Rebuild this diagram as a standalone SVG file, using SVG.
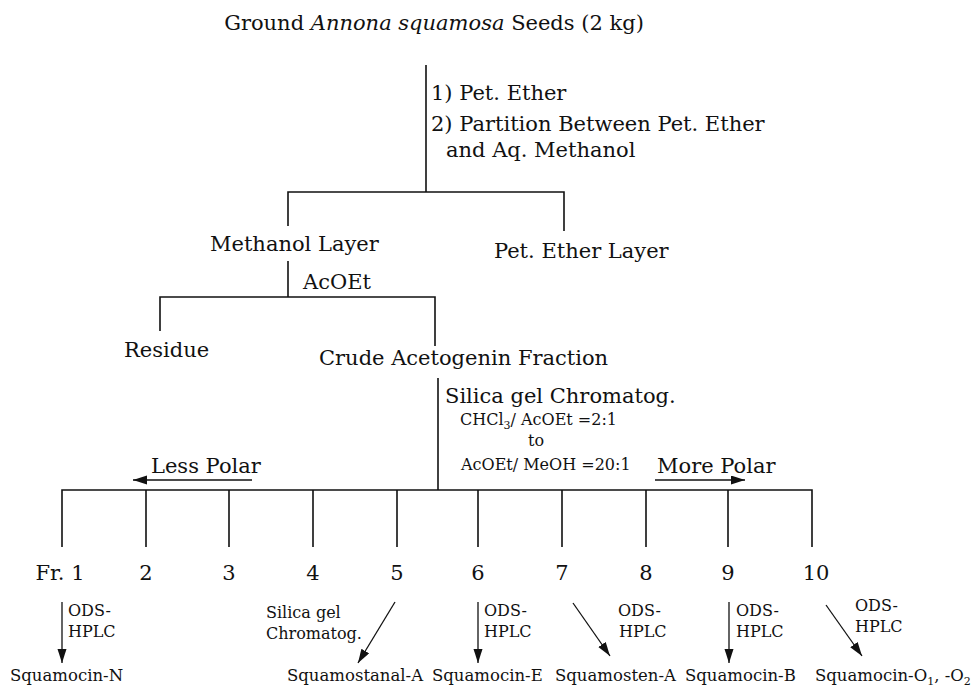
<svg xmlns="http://www.w3.org/2000/svg" width="980" height="689" viewBox="0 0 980 689">
<style>
text{font-family:"DejaVu Serif","Liberation Serif",serif;fill:#111}
.m{font-size:21px}
.s{font-size:16px}
.b{font-size:16.5px}
.c{text-anchor:middle}
.ln{stroke:#111;stroke-width:1.6;fill:none}
.ar{stroke:#111;stroke-width:1.3;fill:none;marker-end:url(#ah)}
</style>
<defs>
<marker id="ah" markerUnits="userSpaceOnUse" markerWidth="16" markerHeight="10" refX="14" refY="4.5" orient="auto">
<path d="M0,0 L14,4.5 L0,9 z" fill="#111"/>
</marker>
</defs>
<rect width="980" height="689" fill="#fff"/>
<g id="connectors">
<path class="ln" d="M426,65 V192 M288,226 V192 H564 V231"/>
<path class="ln" d="M288,261 V297 M160,331 V297 H435 V346"/>
<path class="ln" d="M438,378 V490"/>
<path class="ln" d="M62,547 V490 H812 V547 M146,490 V547 M229,490 V547 M313,490 V547 M397,490 V547 M478,490 V547 M562,490 V547 M646,490 V547 M728,490 V547"/>
<path class="ar" d="M252,480 H133"/>
<path class="ar" d="M655,480 H745"/>
<path class="ar" d="M62,602 V663"/>
<path class="ar" d="M395,602 L358,663"/>
<path class="ar" d="M478,602 V663"/>
<path class="ar" d="M573,603 L610,656"/>
<path class="ar" d="M729,602 V663"/>
<path class="ar" d="M826,605 L862,656"/>
</g>
<g id="start"><text class="m" x="434" y="30" text-anchor="middle">Ground <tspan font-style="italic">Annona squamosa</tspan> Seeds (2 kg)</text></g>
<g id="step1"><text class="m" x="431" y="100">1) Pet. Ether</text><text class="m" x="431" y="131">2) Partition Between Pet. Ether</text><text class="m" x="446" y="157">and Aq. Methanol</text></g>
<g id="methanol"><text class="m" x="210" y="251">Methanol Layer</text></g>
<g id="petether"><text class="m" x="494" y="258">Pet. Ether Layer</text></g>
<g id="acoet"><text class="m" x="303" y="289">AcOEt</text></g>
<g id="residue"><text class="m" x="124" y="357">Residue</text></g>
<g id="crude"><text class="m" x="319" y="365">Crude Acetogenin Fraction</text></g>
<g id="silica"><text class="m" x="445" y="403">Silica gel Chromatog.</text>
<text class="s" x="460" y="425">CHCl<tspan font-size="11" dy="4">3</tspan><tspan dy="-4">/ AcOEt =2:1</tspan></text>
<text class="s" x="528" y="446">to</text>
<text class="s" x="461" y="470">AcOEt/ MeOH =20:1</text></g>
<g id="lesspolar"><text class="m" x="151" y="473">Less Polar</text></g>
<g id="morepolar"><text class="m" x="657" y="473">More Polar</text></g>
<g id="fractions" class="c">
<text class="m c" x="60" y="580">Fr. 1</text>
<text class="m c" x="146" y="580">2</text>
<text class="m c" x="229" y="580">3</text>
<text class="m c" x="313" y="580">4</text>
<text class="m c" x="397" y="580">5</text>
<text class="m c" x="478" y="580">6</text>
<text class="m c" x="562" y="580">7</text>
<text class="m c" x="646" y="580">8</text>
<text class="m c" x="728" y="580">9</text>
<text class="m c" x="816" y="580">10</text>
</g>
<g id="methods">
<text class="s" x="68" y="616">ODS-</text><text class="s" x="68" y="637">HPLC</text>
<text class="s" x="266" y="618">Silica gel</text><text class="s" x="266" y="639">Chromatog.</text>
<text class="s" x="484" y="616">ODS-</text><text class="s" x="484" y="637">HPLC</text>
<text class="s" x="618" y="616">ODS-</text><text class="s" x="619" y="637">HPLC</text>
<text class="s" x="736" y="616">ODS-</text><text class="s" x="736" y="637">HPLC</text>
<text class="s" x="855" y="611">ODS-</text><text class="s" x="855" y="632">HPLC</text>
</g>
<g id="products">
<text class="b" x="10" y="681">Squamocin-N</text>
<text class="b" x="287" y="681">Squamostanal-A</text>
<text class="b" x="432" y="681">Squamocin-E</text>
<text class="b" x="555" y="681">Squamosten-A</text>
<text class="b" x="685" y="681">Squamocin-B</text>
<text class="b" x="815" y="681">Squamocin-O<tspan font-size="11" dy="4">1</tspan><tspan dy="-4">, -O</tspan><tspan font-size="11" dy="4">2</tspan></text>
</g>
</svg>
